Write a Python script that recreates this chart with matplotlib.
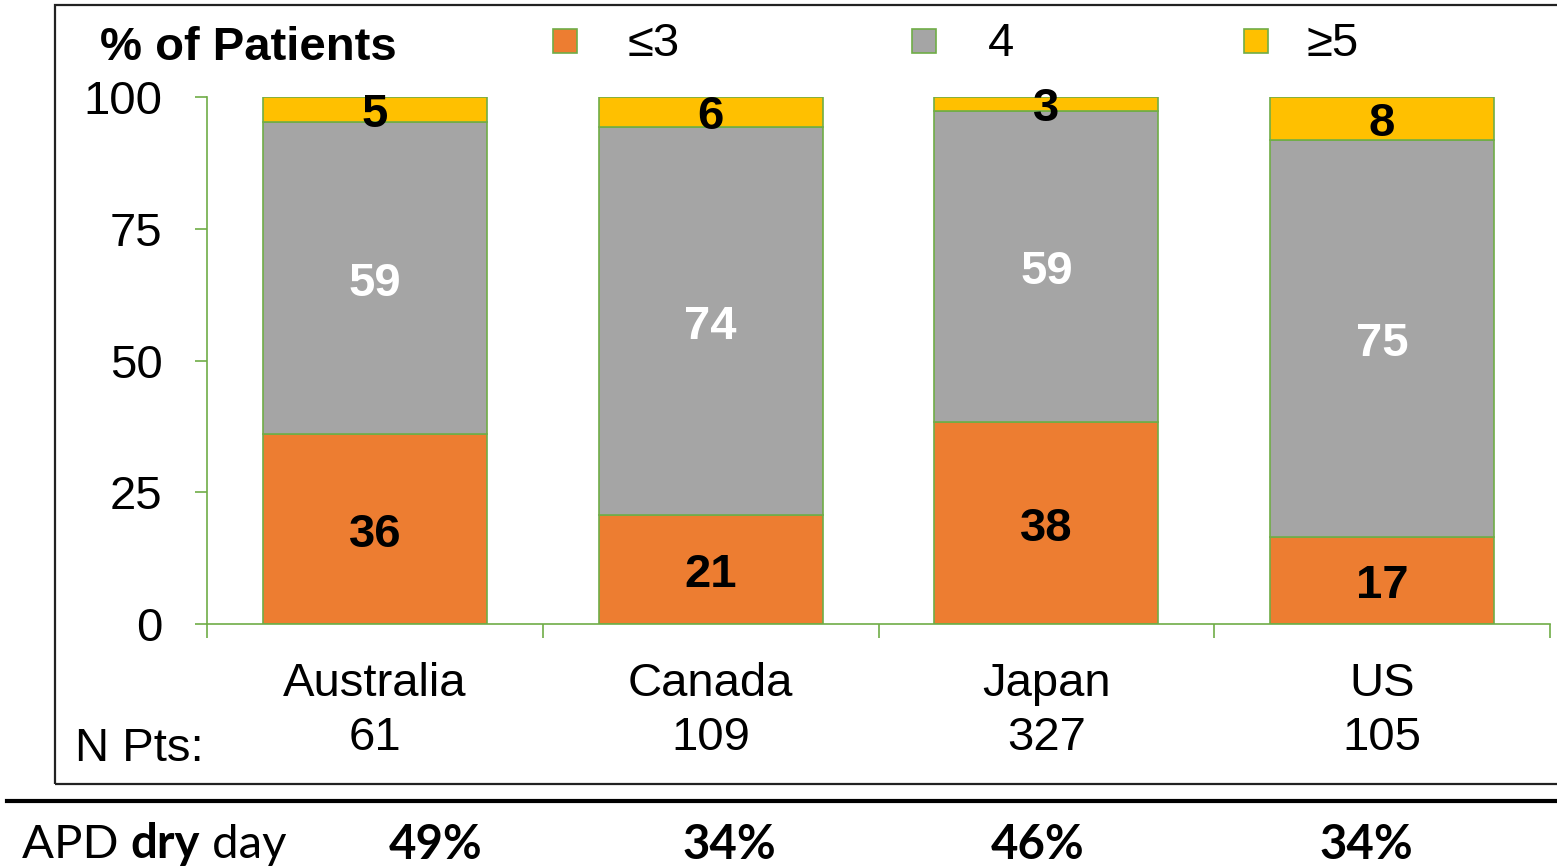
import numpy as np
import matplotlib.pyplot as plt
from matplotlib.patches import Rectangle
from matplotlib.lines import Line2D

# Data
countries = ['Australia', 'Canada', 'Japan', 'US']
n_pts = [61, 109, 327, 105]
le3 = [36.0, 20.6, 38.3, 16.6]
eq4 = [59.3, 73.8, 59.1, 75.2]
ge5 = [4.7, 5.6, 2.6, 8.2]
dry_day = ['49%', '34%', '46%', '34%']
legend_labels = ['≤3', '4', '≥5']

# Styles
ORANGE = '#ED7D31'
GRAY = '#A5A5A5'
YELLOW = '#FFC000'
GREEN = '#70AD47'
W, H = 1557, 867
FS = 34
FONT = ['Liberation Sans', 'DejaVu Sans']
FONT2 = ['Lato', 'DejaVu Sans']

plt.rcParams['font.family'] = FONT

fig = plt.figure(figsize=(W / 100, H / 100), dpi=100)
ax = fig.add_axes([207 / W, 1 - 624 / H, (1550 - 207) / W, (624 - 97) / H])

x = np.arange(len(countries))
bw = 0.667
bottoms = np.zeros(len(countries))
for vals, col, tcol in [(le3, ORANGE, 'black'), (eq4, GRAY, 'white'), (ge5, YELLOW, 'black')]:
    vals = np.array(vals)
    ax.bar(x, vals, bw, bottom=bottoms, color=col, edgecolor=GREEN, linewidth=1.2)
    for xi, b, v in zip(x, bottoms, vals):
        ax.annotate(f'{v:.0f}', (xi, b + v / 2), xytext=(0, -4), textcoords='offset points',
                    ha='center', va='center', fontsize=FS, fontweight='bold', color=tcol)
    bottoms = bottoms + vals

ax.set_xlim(-0.5, len(countries) - 0.5)
ax.set_ylim(0, 100)
ax.set_yticks([0, 25, 50, 75, 100])
ax.tick_params(axis='y', length=9, width=1.2, color=GREEN, labelsize=FS, pad=23)
ax.set_xticks(x, [f'{c}\n{n}' for c, n in zip(countries, n_pts)])
ax.set_xticks(np.arange(len(countries) + 1) - 0.5, minor=True)
ax.tick_params(axis='x', which='major', length=0, labelsize=FS, pad=27.5)
ax.tick_params(axis='x', which='minor', length=10, width=1.2, color=GREEN)
for lbl in ax.get_xticklabels():
    lbl.set_linespacing(1.3)
for s in ['top', 'right']:
    ax.spines[s].set_visible(False)
for s in ['left', 'bottom']:
    ax.spines[s].set_color(GREEN)
    ax.spines[s].set_linewidth(1.2)


def px(xp, yp):
    return xp / W, 1 - yp / H


# Outer frame and separator line
fig.add_artist(Rectangle(px(55, 784), (W + 10 - 55) / W, (784 - 5) / H,
                         transform=fig.transFigure, fill=False,
                         edgecolor='#222222', linewidth=1.6))
fig.add_artist(Line2D([7 / W, 1], [1 - 801 / H] * 2, transform=fig.transFigure,
                      color='black', linewidth=3))

fig.text(*px(100, 48), '% of Patients', fontsize=FS, fontweight='bold', va='center')
fig.text(*px(75, 749), 'N Pts:', fontsize=FS, va='center')

# Legend
for (sx, tx), col, lab in zip([(565, 628), (924, 988), (1256, 1307)],
                              [ORANGE, GRAY, YELLOW], legend_labels):
    fig.add_artist(Rectangle(px(sx - 12, 53), 24 / W, 24 / H, transform=fig.transFigure,
                             facecolor=col, edgecolor=GREEN, linewidth=1.2))
    fig.text(*px(tx, 44), lab, fontsize=FS, va='center')

# APD dry day row
t1 = fig.text(*px(22, 845), 'APD ', fontsize=FS, family=FONT2, va='center')
t2 = ax.annotate('dry', xy=(1, 0), xycoords=t1, va='bottom', ha='left',
                 fontsize=FS, family=FONT2, fontweight='bold')
ax.annotate(' day', xy=(1, 0), xycoords=t2, va='bottom', ha='left',
            fontsize=FS, family=FONT2)
for cx, s in zip([436, 729, 1038, 1366], dry_day):
    fig.text(*px(cx, 845), s, fontsize=FS, family=FONT2, fontweight='bold',
             ha='center', va='center')

fig.savefig('out.png', dpi=100)
